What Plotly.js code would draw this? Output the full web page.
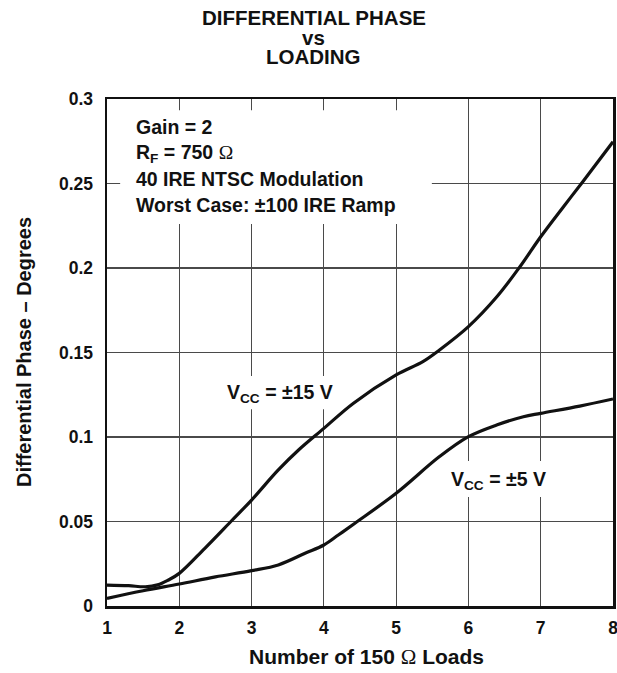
<!DOCTYPE html>
<html>
<head>
<meta charset="utf-8">
<script src="https://cdn.plot.ly/plotly-3.0.1.min.js"></script>
<style>html,body{margin:0;padding:0;background:#fff;}</style>
</head>
<body>
<div id="chart" style="width:617px;height:673px;"></div>
<script>
// Data
const loads15 = [1.0, 1.3, 1.53, 1.7, 1.85, 2.0, 2.35, 2.72, 3.0, 3.37, 3.65, 4.0, 4.41, 5.0, 5.37, 5.6, 6.0, 6.39, 6.71, 7.0, 7.31, 7.59, 8.0];
const phase15 = [0.0124, 0.0120, 0.0114, 0.0125, 0.0154, 0.0193, 0.0340, 0.0503, 0.0627, 0.0805, 0.0923, 0.1051, 0.1200, 0.1367, 0.1446, 0.1515, 0.1653, 0.1828, 0.2006, 0.2185, 0.2360, 0.2515, 0.2747];
const loads5 = [1.0, 1.5, 2.0, 2.5, 3.0, 3.37, 3.74, 4.0, 4.2, 4.43, 5.0, 5.6, 6.0, 6.39, 6.76, 7.0, 7.54, 8.0];
const phase5 = [0.0045, 0.0090, 0.0130, 0.0172, 0.0209, 0.0243, 0.0312, 0.0361, 0.0420, 0.0490, 0.0667, 0.0884, 0.1002, 0.1071, 0.1120, 0.1140, 0.1183, 0.1225];
const yTickVals = [0, 0.05, 0.1, 0.15, 0.2, 0.25, 0.3];
const yTickText = ["0", "0.05", "0.1", "0.15", "0.2", "0.25", "0.3"];
const xTickVals = [1, 2, 3, 4, 5, 6, 7, 8];
const titleLines = ["DIFFERENTIAL PHASE", "vs", "LOADING"];
const noteLines = ["Gain = 2", "R<sub>F</sub> = 750 Ω", "40 IRE NTSC Modulation", "Worst Case: ±100 IRE Ramp"];

const FONT = "Liberation Sans, Arial, sans-serif";
const INK = "#111";
const omega = s => s.replace("Ω", '<span style="font-family:Liberation Serif;font-weight:normal">Ω</span>');

const traces = [
  {x: loads15, y: phase15, mode: "lines", line: {color: INK, width: 3.2, shape: "spline", smoothing: 1.0}, hoverinfo: "none"},
  {x: loads5, y: phase5, mode: "lines", line: {color: INK, width: 3.2, shape: "spline", smoothing: 1.0}, hoverinfo: "none"}
];

const bold = (size) => ({family: FONT, size: size, color: INK, weight: "bold"});

const annotations = [];
// chart title (three tight lines)
const titleY = [1.160, 1.122, 1.083];
titleLines.forEach((t, i) => annotations.push({
  xref: "paper", yref: "paper", x: 0.409, y: titleY[i], text: t, showarrow: false,
  xanchor: "center", yanchor: "middle", font: bold(20.5)
}));
// conditions block
const noteY = [0.2834, 0.2680, 0.2527, 0.2373];
noteLines.forEach((t, i) => annotations.push({
  xref: "x", yref: "y", x: 1.373, y: noteY[i], text: omega(t), showarrow: false,
  xanchor: "left", yanchor: "middle", font: bold(19.5)
}));
// curve labels
annotations.push({xref: "x", yref: "y", x: 3.39, y: 0.1255, text: "V<sub>CC</sub> = ±15 V", showarrow: false,
  xanchor: "center", yanchor: "middle", font: bold(19.5)});
annotations.push({xref: "x", yref: "y", x: 6.41, y: 0.0745, text: "V<sub>CC</sub> = ±5 V", showarrow: false,
  xanchor: "center", yanchor: "middle", font: bold(19.5)});
// axis titles
annotations.push({xref: "paper", yref: "paper", x: 0.512, y: -0.100, text: omega("Number of 150 Ω Loads"), showarrow: false,
  xanchor: "center", yanchor: "middle", font: bold(21)});
annotations.push({xref: "paper", yref: "paper", x: -0.165, y: 0.5, text: "Differential Phase – Degrees", showarrow: false,
  textangle: -90, xanchor: "center", yanchor: "middle", font: bold(20)});

const layout = {
  width: 617, height: 673,
  margin: {l: 107, r: 4, t: 99, b: 67},
  paper_bgcolor: "#fff", plot_bgcolor: "#fff",
  showlegend: false,
  font: {family: FONT, color: INK},
  xaxis: {
    range: [1, 8], tickvals: xTickVals, ticktext: xTickVals.map(String),
    showgrid: true, gridcolor: "#4a4a4a", gridwidth: 1.2,
    showline: true, linecolor: INK, linewidth: 2.5, mirror: true,
    ticks: "", zeroline: false, ticklabeloverflow: "allow", ticklabelstandoff: 4,
    tickfont: bold(17.5)
  },
  yaxis: {
    range: [0, 0.3], tickvals: yTickVals, ticktext: yTickText,
    showgrid: true, gridcolor: "#4a4a4a", gridwidth: 1.2,
    showline: true, linecolor: INK, linewidth: 2.5, mirror: true,
    ticks: "", zeroline: false, ticklabelstandoff: 8,
    tickfont: bold(17.5)
  },
  shapes: [
    {type: "rect", xref: "paper", yref: "paper", layer: "above",
     x0: 0.026, x1: 0.642, y0: 0.7535, y1: 0.978, fillcolor: "#fff", line: {width: 0}},
    {type: "rect", xref: "paper", yref: "paper", layer: "above",
     x0: 0.232, x1: 0.452, y0: 0.388, y1: 0.4536, fillcolor: "#fff", line: {width: 0}},
    {type: "rect", xref: "paper", yref: "paper", layer: "above",
     x0: 0.672, x1: 0.876, y0: 0.215, y1: 0.286, fillcolor: "#fff", line: {width: 0}}
  ],
  annotations: annotations
};

Plotly.newPlot("chart", traces, layout, {staticPlot: true, displayModeBar: false});
</script>
</body>
</html>
